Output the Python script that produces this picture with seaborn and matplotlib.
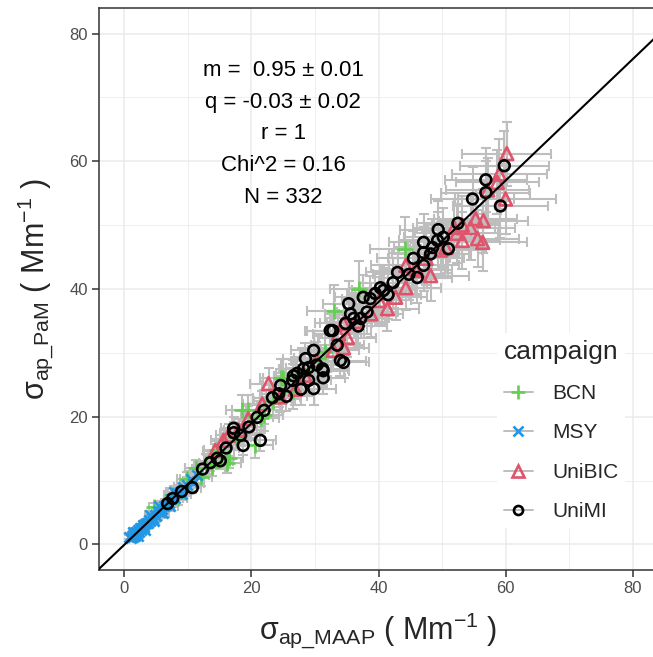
import matplotlib
matplotlib.use('Agg')
import matplotlib.pyplot as plt
from matplotlib.lines import Line2D
import numpy as np
import pandas as pd
import seaborn as sns

# values
campaigns = ['BCN', 'MSY', 'UniBIC', 'UniMI']

bcn_x = [4.6, 6.0, 7.5, 8.5, 9.8, 11.2, 12.0, 12.8, 13.8, 14.5, 16.2, 16.4, 17.5, 18.5, 19.5,
         20.6, 22.0, 24.6, 25.0, 26.5, 28.0, 30.5, 33.0, 37.0, 44.1,
         15.2, 21.5, 23.4, 27.0, 31.5]
bcn_y = [5.8, 5.5, 7.8, 7.2, 10.2, 11.9, 10.5, 12.6, 12.2, 14.8, 12.8, 13.6, 16.8, 21.0, 21.0,
         15.5, 20.2, 26.1, 26.1, 24.0, 27.5, 29.2, 36.6, 40.0, 46.3,
         13.9, 19.8, 22.5, 25.8, 30.1]
bcn_xerr = [0.8, 1.0, 1.2, 1.3, 1.5, 1.6, 1.8, 1.8, 2.0, 2.0, 2.2, 2.3, 2.4, 2.5, 2.6,
            2.8, 3.0, 3.2, 3.2, 3.4, 3.6, 3.8, 4.2, 4.6, 5.4,
            2.1, 2.8, 3.0, 3.4, 3.9]
bcn_yerr = [0.7, 0.8, 1.0, 1.0, 1.2, 1.4, 1.3, 1.5, 1.5, 1.7, 1.6, 1.7, 2.0, 2.4, 2.4,
            2.0, 2.4, 3.0, 3.0, 2.8, 3.2, 3.4, 4.0, 4.4, 5.0,
            1.6, 2.3, 2.6, 3.0, 3.4]

msy_x = [0.8, 1.0, 1.2, 1.3, 1.5, 1.6, 1.8, 2.0, 2.1, 2.3, 2.5, 2.6, 2.8, 3.0, 3.1, 3.3, 3.5,
         3.7, 3.9, 4.1, 4.3, 4.5, 4.8, 5.0, 5.3, 5.6, 5.9, 6.2, 6.6, 7.0, 7.4, 7.9, 8.3, 8.8,
         9.3, 9.9, 10.5, 1.4, 2.2, 3.2, 4.0, 4.6, 5.5, 6.0, 7.2, 7.8, 9.0, 10.8, 11.5]
msy_y = [1.2, 1.0, 1.4, 1.1, 1.6, 1.3, 1.9, 1.7, 2.2, 2.0, 2.6, 2.3, 2.5, 3.0, 2.7, 3.2, 3.4,
         3.3, 3.8, 3.7, 4.2, 4.1, 4.6, 4.5, 5.2, 5.1, 5.5, 6.0, 6.2, 6.5, 7.1, 7.3, 8.0, 8.2,
         9.0, 9.3, 10.2, 2.0, 1.4, 2.2, 4.6, 3.6, 6.0, 4.9, 6.0, 8.2, 7.9, 9.6, 10.8]
msy_xerr = [0.3, 0.3, 0.3, 0.3, 0.4, 0.4, 0.4, 0.4, 0.5, 0.5, 0.5, 0.5, 0.6, 0.6, 0.6, 0.6, 0.7,
            0.7, 0.7, 0.8, 0.8, 0.8, 0.9, 0.9, 0.9, 1.0, 1.0, 1.1, 1.1, 1.2, 1.2, 1.3, 1.4, 1.4,
            1.5, 1.6, 1.7, 0.4, 0.5, 0.6, 0.7, 0.8, 0.9, 1.0, 1.2, 1.3, 1.5, 1.7, 1.8]
msy_yerr = [0.3, 0.3, 0.3, 0.3, 0.3, 0.3, 0.4, 0.4, 0.4, 0.4, 0.4, 0.4, 0.5, 0.5, 0.5, 0.5, 0.5,
            0.5, 0.6, 0.6, 0.6, 0.6, 0.7, 0.7, 0.7, 0.7, 0.8, 0.8, 0.9, 0.9, 1.0, 1.0, 1.1, 1.1,
            1.2, 1.2, 1.3, 0.3, 0.3, 0.4, 0.6, 0.5, 0.8, 0.7, 0.8, 1.0, 1.0, 1.2, 1.3]

unibic_x = [60.2, 59.0, 58.7, 60.0, 56.5, 55.3, 53.2, 51.9, 54.5, 55.6, 53.2, 50.6, 56.4, 57.2,
            44.3, 46.1, 48.2, 45.8, 44.3, 42.7, 41.4, 34.5, 33.7, 35.1, 34.5, 32.9, 22.7, 26.9,
            21.7, 19.5, 16.4, 14.3, 15.6,
            24.5, 28.4, 30.2, 36.5, 38.8, 40.1, 47.5, 49.8, 52.3, 18.0]
unibic_y = [61.2, 58.0, 56.7, 54.1, 50.7, 51.0, 50.0, 49.6, 49.6, 47.9, 47.6, 46.5, 47.3, 55.5,
            43.7, 42.9, 42.1, 43.2, 40.2, 38.7, 36.9, 34.6, 33.0, 32.4, 30.8, 30.4, 25.2, 24.3,
            22.0, 19.7, 17.1, 14.7, 16.3,
            23.1, 26.5, 28.8, 34.9, 36.1, 38.2, 44.8, 46.1, 48.7, 17.9]
unibic_xerr = [7.0, 7.5, 6.5, 8.0, 7.0, 6.5, 6.0, 6.5, 7.0, 6.5, 6.0, 6.0, 7.0, 6.5,
               5.5, 5.5, 6.0, 5.0, 5.5, 5.0, 5.0, 4.5, 4.0, 4.5, 4.0, 4.0, 3.0, 3.5,
               3.0, 2.5, 2.0, 2.0, 2.0,
               3.2, 3.6, 4.0, 4.6, 5.0, 5.0, 6.0, 6.5, 6.5, 2.4]
unibic_yerr = [5.0, 5.5, 5.0, 5.5, 5.0, 4.5, 4.5, 4.5, 5.0, 4.5, 4.5, 4.0, 4.5, 5.0,
               4.0, 4.0, 4.0, 4.0, 3.5, 3.5, 3.5, 3.0, 3.0, 3.0, 3.0, 3.0, 2.5, 2.5,
               2.0, 2.0, 1.7, 1.5, 1.6,
               2.4, 2.7, 2.9, 3.4, 3.6, 3.7, 4.2, 4.4, 4.6, 1.8]

unimi_x = [59.8, 56.9, 56.9, 54.8, 59.2, 51.0, 49.3, 47.1, 48.5, 47.1, 48.2, 47.1, 46.1, 43.0,
           40.3, 39.5, 38.7, 37.6, 35.3, 40.8, 37.2, 35.6, 32.4, 34.8, 34.0, 28.5, 29.8, 31.2,
           29.0, 26.6, 36.1, 32.8, 34.5, 31.3, 31.3, 29.8, 29.0, 28.2, 26.5, 24.6, 24.3, 23.3,
           21.4, 18.7, 17.2, 18.3, 13.5, 14.6, 6.8, 7.6, 10.7, 15.1, 17.2, 20.9, 49.4,
           22.0, 25.5, 27.2, 30.3, 33.5, 36.8, 38.2, 41.5, 42.3, 44.8, 45.5, 50.2, 52.5, 12.3,
           16.0, 19.6, 9.0, 27.8]
unimi_y = [59.3, 57.1, 55.1, 54.1, 53.0, 46.3, 47.6, 47.3, 46.5, 45.7, 45.5, 43.7, 41.8, 42.6,
           40.2, 39.3, 38.5, 38.7, 37.7, 39.8, 35.4, 36.1, 33.5, 34.6, 28.8, 29.1, 30.4, 27.5,
           27.7, 26.4, 35.4, 33.5, 28.5, 27.2, 26.1, 24.4, 25.7, 27.5, 25.7, 24.9, 23.6, 23.0,
           16.3, 15.5, 18.2, 17.1, 12.8, 13.5, 6.4, 7.2, 8.9, 13.1, 17.5, 19.9, 49.3,
           21.0, 23.2, 26.8, 28.1, 31.2, 34.2, 36.4, 39.1, 41.0, 42.3, 44.8, 48.1, 50.3, 11.8,
           15.1, 18.4, 8.3, 24.3]
unimi_xerr = [7.0, 6.5, 7.0, 6.5, 7.5, 6.0, 6.0, 5.5, 6.0, 5.5, 6.0, 5.5, 5.5, 5.0,
              5.0, 4.5, 4.5, 4.5, 4.0, 5.0, 4.5, 4.0, 4.0, 4.0, 4.0, 3.5, 3.5, 4.0,
              3.5, 3.0, 4.5, 4.0, 4.0, 4.0, 3.5, 3.5, 3.5, 3.5, 3.0, 3.0, 3.0, 3.0,
              2.5, 2.5, 2.0, 2.5, 1.8, 2.0, 1.0, 1.0, 1.4, 2.0, 2.2, 2.5, 6.0,
              2.8, 3.2, 3.4, 3.8, 4.2, 4.6, 4.8, 5.2, 5.3, 5.6, 5.7, 6.2, 6.5, 1.6,
              2.0, 2.5, 1.2, 3.5]
unimi_yerr = [5.5, 5.0, 5.0, 5.0, 5.0, 4.5, 4.5, 4.5, 4.5, 4.0, 4.0, 4.0, 4.0, 4.0,
              3.5, 3.5, 3.5, 3.5, 3.5, 3.5, 3.0, 3.0, 3.0, 3.0, 2.5, 2.5, 3.0, 2.5,
              2.5, 2.5, 3.0, 3.0, 2.5, 2.5, 2.5, 2.5, 2.5, 2.5, 2.5, 2.5, 2.0, 2.0,
              1.6, 1.5, 1.8, 1.7, 1.3, 1.4, 0.7, 0.7, 0.9, 1.3, 1.7, 2.0, 4.5,
              2.1, 2.3, 2.6, 2.8, 3.0, 3.3, 3.5, 3.8, 3.9, 4.1, 4.3, 4.6, 4.8, 1.2,
              1.5, 1.8, 0.8, 2.4]

fit_m, fit_m_err = 0.95, 0.01
fit_q, fit_q_err = -0.03, 0.02
fit_r = 1
chi2 = 0.16
n_points = 332

colors = {'BCN': '#61D04F', 'MSY': '#2297E6', 'UniBIC': '#DF536B', 'UniMI': 'black'}
markers = {'BCN': '+', 'MSY': 'x', 'UniBIC': '^', 'UniMI': 'o'}
msizes = {'BCN': 120, 'MSY': 55, 'UniBIC': 85, 'UniMI': 60}

frames = []
for name, xs, ys, exs, eys in [('BCN', bcn_x, bcn_y, bcn_xerr, bcn_yerr),
                               ('MSY', msy_x, msy_y, msy_xerr, msy_yerr),
                               ('UniBIC', unibic_x, unibic_y, unibic_xerr, unibic_yerr),
                               ('UniMI', unimi_x, unimi_y, unimi_xerr, unimi_yerr)]:
    frames.append(pd.DataFrame({'campaign': name, 'x': xs, 'y': ys, 'xerr': exs, 'yerr': eys}))
df = pd.concat(frames, ignore_index=True)

sns.set_theme(style='whitegrid')
plt.rcParams['font.family'] = ['Liberation Sans', 'DejaVu Sans']
plt.rcParams['mathtext.fontset'] = 'custom'
plt.rcParams['mathtext.rm'] = 'Liberation Sans'
plt.rcParams['mathtext.it'] = 'Liberation Sans:italic'
plt.rcParams['mathtext.bf'] = 'Liberation Sans:bold'

fig = plt.figure(figsize=(6.53, 6.57), dpi=100)
ax = fig.add_axes([99 / 653, 87 / 657, 559 / 653, 562 / 657])
ax.set_facecolor('white')

# error bars below everything
ax.errorbar(df['x'], df['y'], xerr=df['xerr'], yerr=df['yerr'], fmt='none',
            ecolor='#BEBEBE', elinewidth=1.5, capsize=3.5, capthick=1.5, zorder=2)

for name in campaigns:
    sub = df[df['campaign'] == name]
    if markers[name] in ['o', '^']:
        sns.scatterplot(data=sub, x='x', y='y', ax=ax, marker=markers[name], s=msizes[name],
                        facecolor='none', edgecolor=colors[name], linewidth=1.9, zorder=3)
    else:
        sns.scatterplot(data=sub, x='x', y='y', ax=ax, marker=markers[name], s=msizes[name],
                        color=colors[name], linewidth=1.9, zorder=3)

ax.axline((0, fit_q), slope=fit_m, color='black', lw=1.5, zorder=4)

ax.set_xlim(-4, 84)
ax.set_ylim(-4, 84)
ax.set_xticks([0, 20, 40, 60, 80])
ax.set_yticks([0, 20, 40, 60, 80])
ax.set_xticks([10, 30, 50, 70], minor=True)
ax.set_yticks([10, 30, 50, 70], minor=True)
ax.grid(which='major', color='#EBEBEB', lw=1.1)
ax.grid(which='minor', color='#EBEBEB', lw=0.6)
ax.set_axisbelow(True)
for sp in ax.spines.values():
    sp.set_color('#333333')
    sp.set_linewidth(1.1)
ax.tick_params(which='major', length=5, width=1.1, color='#333333', labelsize=12,
               labelcolor='#4D4D4D', pad=3, bottom=True, left=True)
ax.tick_params(which='minor', length=0)

ax.set_xlabel(r'$\mathrm{σ_{ap\_MAAP}}$ ( Mm$^{\mathrm{-1}}$ )', fontsize=22, labelpad=10)
ax.set_ylabel(r'$\mathrm{σ_{ap\_PaM}}$ ( Mm$^{\mathrm{-1}}$ )', fontsize=22, labelpad=10)

stats = [f'm =  {fit_m:.2f} ± {fit_m_err:.2f}',
         f'q = {fit_q:.2f} ± {fit_q_err:.2f}',
         f'r = {fit_r}',
         f'Chi^2 = {chi2:.2f}',
         f'N = {n_points}']
for i, line in enumerate(stats):
    ax.text(25, 74.2 - 4.95 * i, line, ha='center', va='center', fontsize=16, color='black')

handles = [Line2D([], [], color='#BEBEBE', lw=1.4, marker=markers[c],
                  markeredgecolor=colors[c], markerfacecolor='none',
                  markersize={'BCN': 10, 'MSY': 7, 'UniBIC': 8.5, 'UniMI': 6.5}[c],
                  markeredgewidth=1.9) for c in campaigns]
leg = fig.legend(handles, campaigns, title='campaign', loc='upper left',
                 bbox_to_anchor=(487 / 653, 1 - 323 / 657), frameon=True, fontsize=15,
                 title_fontsize=19, handlelength=1.4, handletextpad=0.95, labelspacing=0.98,
                 borderpad=0.3, alignment='left')
leg.get_frame().set_facecolor('white')
leg.get_frame().set_edgecolor('none')
leg.get_frame().set_alpha(1)

fig.savefig('out.png', dpi=100)
